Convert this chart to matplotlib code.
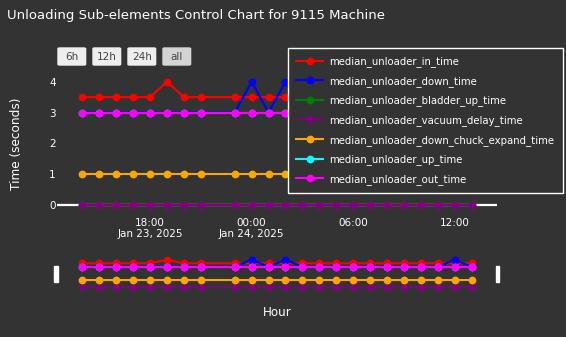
import numpy as np
import pandas as pd
import matplotlib
matplotlib.use("Agg")
import matplotlib.pyplot as plt
from matplotlib.patches import FancyBboxPatch, Rectangle

# hourly medians, 22:00 on Jan 23 has no data
hours = ["2025-01-23 14:00", "2025-01-23 15:00", "2025-01-23 16:00", "2025-01-23 17:00",
         "2025-01-23 18:00", "2025-01-23 19:00", "2025-01-23 20:00", "2025-01-23 21:00",
         "2025-01-23 23:00", "2025-01-24 00:00", "2025-01-24 01:00", "2025-01-24 02:00",
         "2025-01-24 03:00", "2025-01-24 04:00", "2025-01-24 05:00", "2025-01-24 06:00",
         "2025-01-24 07:00", "2025-01-24 08:00", "2025-01-24 09:00", "2025-01-24 10:00",
         "2025-01-24 11:00", "2025-01-24 12:00", "2025-01-24 13:00"]

in_time = [3.5, 3.5, 3.5, 3.5, 3.5, 4, 3.5, 3.5, 3.5, 3.5, 3.5, 3.5,
           3.5, 3.5, 3.5, 3.5, 3.5, 3.5, 3.5, 3.5, 3.5, 3.5, 3.5]
down_time = [3, 3, 3, 3, 3, 3, 3, 3, 3, 4, 3, 4,
             3, 3, 3, 3, 3, 3, 3, 3, 3, 4, 3]
bladder_up_time = [0] * 23
vacuum_delay_time = [0] * 23
down_chuck_expand_time = [1] * 23
up_time = [3] * 23
out_time = [3] * 23

series = [
    ("median_unloader_in_time", in_time, "#ff0000"),
    ("median_unloader_down_time", down_time, "#0000ff"),
    ("median_unloader_bladder_up_time", bladder_up_time, "#008000"),
    ("median_unloader_vacuum_delay_time", vacuum_delay_time, "#800080"),
    ("median_unloader_down_chuck_expand_time", down_chuck_expand_time, "#ffa500"),
    ("median_unloader_up_time", up_time, "#00ffff"),
    ("median_unloader_out_time", out_time, "#ff00ff"),
]

tick_times = ["2025-01-23 18:00", "2025-01-24 00:00", "2025-01-24 06:00", "2025-01-24 12:00"]
tick_labels = ["18:00\nJan 23, 2025", "00:00\nJan 24, 2025", "06:00", "12:00"]
buttons = ["6h", "12h", "24h", "all"]

x = pd.to_datetime(hours)
xmin = pd.Timestamp("2025-01-23 12:30")
xmax = pd.Timestamp("2025-01-24 14:30")

BG = "#333333"
W, H = 566, 337
plt.rcParams['font.family'] = ['DejaVu Sans']

fig = plt.figure(figsize=(W / 100, H / 100), dpi=100, facecolor=BG)


def px_axes(l, t, r, b):
    return fig.add_axes([l / W, 1 - b / H, (r - l) / W, (b - t) / H])


ax = px_axes(57, 66, 497, 212)
ax.set_facecolor(BG)
ax.axhline(0, color="white", lw=1.6, zorder=1)
for name, vals, col in series:
    ax.plot(x, vals, color=col, lw=1.5, marker="o", ms=4.6, label=name, zorder=2)
ax.set_xlim(xmin, xmax)
ax.set_ylim(-0.227, 4.51)
ax.set_yticks([0, 1, 2, 3, 4])
ax.set_xticks(pd.to_datetime(tick_times))
ax.set_xticklabels(tick_labels)
ax.tick_params(axis="x", length=0, pad=4, labelsize=7.5, colors="white")
ax.tick_params(axis="y", length=0, pad=1, labelsize=7.5, colors="white")
for s in ax.spines.values():
    s.set_visible(False)
ax.set_ylabel("Time (seconds)", color="white", fontsize=8.7)
ax.yaxis.set_label_coords(-0.077, 0.47)

leg = fig.legend(loc="upper left", bbox_to_anchor=(288 / W, 1 - 48 / H), borderaxespad=0,
                 fontsize=7.3, frameon=True, fancybox=False, facecolor=BG, edgecolor="white",
                 framealpha=1, labelcolor="white", handlelength=2.7, handletextpad=0.6,
                 labelspacing=0.86, borderpad=0.8)
leg.get_frame().set_linewidth(1.0)

# range slider
sl = px_axes(57, 256, 497, 296)
sl.set_facecolor(BG)
for name, vals, col in series:
    sl.plot(x, vals, color=col, lw=1.5, marker="o", ms=4.6)
sl.set_xlim(xmin, xmax)
sl.set_ylim(-1.27, 4.56)
sl.set_xticks([])
sl.set_yticks([])
for s in sl.spines.values():
    s.set_visible(False)
for hx in (54.3, 495.7):
    fig.patches.append(Rectangle((hx / W, 1 - 282 / H), 3.4 / W, 16 / H,
                                 transform=fig.transFigure, color="white"))

# range selector buttons
bx = 57.3
for i, lab in enumerate(buttons):
    col = "#d4d4d4" if lab == "all" else "#eeeeee"
    fig.patches.append(FancyBboxPatch((bx / W, 1 - 65.7 / H), 29 / W, 18.4 / H,
                                      boxstyle="round,pad=0,rounding_size=0.004",
                                      transform=fig.transFigure, facecolor=col, edgecolor="none"))
    fig.text((bx + 14.5) / W, 1 - 56.8 / H, lab, ha="center", va="center",
             fontsize=7.5, color="#444444")
    bx += 35

fig.text(7 / W, 1 - 15 / H, "Unloading Sub-elements Control Chart for 9115 Machine",
         ha="left", va="center", fontsize=9.5, color="white")
fig.text(277 / W, 1 - 313 / H, "Hour", ha="center", va="center", fontsize=8.6, color="white")

fig.savefig("out.png", dpi=100, facecolor=BG)
